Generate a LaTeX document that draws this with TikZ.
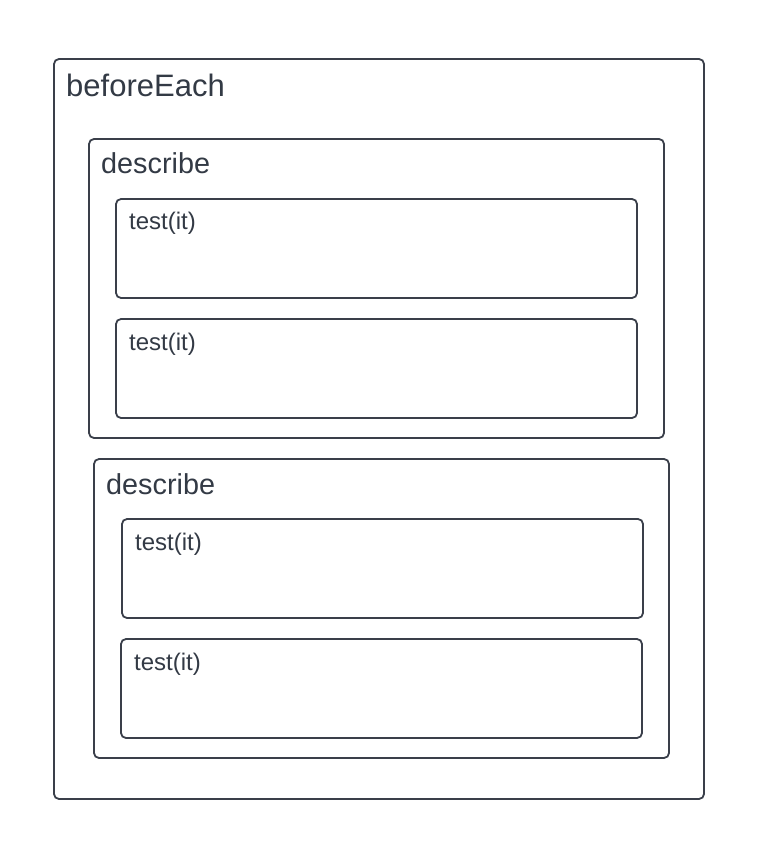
\documentclass[tikz,border=0pt]{standalone}
\usepackage{fontspec}
\setmainfont{Liberation Sans}
\definecolor{ink}{HTML}{3A3F4A}
\definecolor{txt}{HTML}{333A45}
\begin{document}
\begin{tikzpicture}[x=1pt,y=-1pt,
  box/.style={draw=ink, line width=1.8pt, rounded corners=5pt, anchor=north west, inner sep=0pt, outer sep=0pt, fill=white},
  lbl/.style={anchor=base west, inner sep=0pt, text=txt}]
\useasboundingbox (0,0) rectangle (759,858);
\fill[white] (0,0) rectangle (759,858);
\node[box, minimum width=650pt, minimum height=740pt] (outer) at (54,59) {};
\node[lbl, font=\fontsize{31}{36}\selectfont] (tOuter) at (66,97) {beforeEach};
\node[box, minimum width=575pt, minimum height=299pt] (d1) at (89,139) {};
\node[lbl, font=\fontsize{28.8}{34}\selectfont] (td1) at (101,174) {describe};
\node[box, minimum width=521pt, minimum height=99pt] (t1) at (116,199) {};
\node[lbl, font=\fontsize{24}{28}\selectfont] (tt1) at (129,230) {test(it)};
\node[box, minimum width=521pt, minimum height=99pt] (t2) at (116,319) {};
\node[lbl, font=\fontsize{24}{28}\selectfont] (tt2) at (129,350) {test(it)};
\node[box, minimum width=575pt, minimum height=299pt] (d2) at (94,459) {};
\node[lbl, font=\fontsize{28.8}{34}\selectfont] (td2) at (106,494) {describe};
\node[box, minimum width=521pt, minimum height=99pt] (t3) at (122,519) {};
\node[lbl, font=\fontsize{24}{28}\selectfont] (tt3) at (135,550) {test(it)};
\node[box, minimum width=521pt, minimum height=99pt] (t4) at (121,639) {};
\node[lbl, font=\fontsize{24}{28}\selectfont] (tt4) at (134,670) {test(it)};
\end{tikzpicture}
\end{document}
